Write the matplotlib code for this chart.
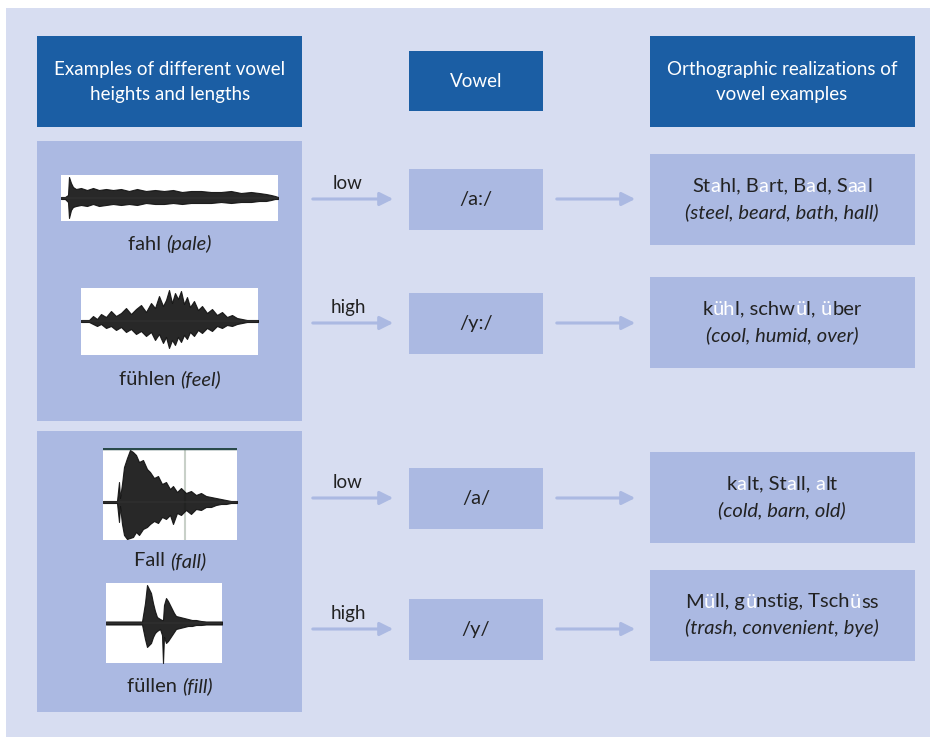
import matplotlib.pyplot as plt
from matplotlib.patches import Rectangle

# Daten / Texte
headers = ["Examples of different vowel\nheights and lengths", "Vowel",
           "Orthographic realizations of\nvowel examples"]
words = ["fahl", "fühlen", "Fall", "füllen"]
glosses = ["(pale)", "(feel)", "(fall)", "(fill)"]
heights = ["low", "high", "low", "high"]
vowels = ["/a:/", "/y:/", "/a/", "/y/"]
# (Textstück, hervorgehoben?)
spellings = [
    [("St", 0), ("a", 1), ("hl, B", 0), ("a", 1), ("rt, B", 0), ("a", 1), ("d, S", 0), ("aa", 1), ("l", 0)],
    [("k", 0), ("üh", 1), ("l, schw", 0), ("ü", 1), ("l, ", 0), ("ü", 1), ("ber", 0)],
    [("k", 0), ("a", 1), ("lt, St", 0), ("a", 1), ("ll, ", 0), ("a", 1), ("lt", 0)],
    [("M", 0), ("ü", 1), ("ll, g", 0), ("ü", 1), ("nstig, Tsch", 0), ("ü", 1), ("ss", 0)],
]
translations = ["(steel, beard, bath, hall)", "(cool, humid, over)",
                "(cold, barn, old)", "(trash, convenient, bye)"]

# Hüllkurven der Oszillogramme (x in px ab linkem Rand, Amplitude in px um Nulllinie)
fahl_x = [0, 4, 7, 8, 10, 12, 15, 20, 26, 32, 38, 45, 52, 60, 68, 76, 85, 94, 103, 112, 121, 130,
          140, 150, 160, 170, 180, 190, 198, 205, 210, 214, 217]
fahl_up = [1, 1, 3, 21, 15, 11, 9, 10, 8, 10, 8, 9, 8, 9, 7, 9, 7, 8, 7, 8, 6, 7, 7, 6, 6, 7, 5, 6, 5, 4, 3, 2, 1]
fahl_lo = [-1, -1, -4, -20, -12, -9, -8, -7, -8, -6, -8, -7, -6, -7, -6, -7, -5, -6, -6, -5, -6, -5,
           -5, -5, -4, -5, -4, -4, -3, -3, -2, -1, -1]

fuehlen_x = [0, 8, 12, 16, 20, 25, 30, 35, 40, 45, 50, 55, 60, 65, 70, 74, 78, 82, 85, 88, 91, 94,
             97, 100, 103, 106, 109, 113, 117, 121, 126, 131, 136, 141, 146, 151, 156, 161, 166, 177]
fuehlen_up = [1, 1, 5, 2, 7, 4, 10, 5, 8, 13, 7, 12, 16, 9, 18, 13, 25, 15, 21, 31, 18, 28, 22, 30,
              17, 24, 14, 20, 11, 15, 8, 12, 6, 9, 4, 6, 3, 2, 1, 1]
fuehlen_lo = [-1, -1, -3, -5, -3, -7, -5, -9, -6, -11, -8, -13, -10, -15, -11, -19, -13, -22, -16,
              -27, -19, -24, -16, -21, -14, -18, -11, -15, -9, -12, -7, -10, -5, -7, -4, -5, -3,
              -2, -1, -1]

fall_x = [0, 14, 16, 17, 19, 21, 24, 27, 30, 33, 36, 40, 44, 47, 51, 55, 59, 63, 67, 70, 74, 78,
          83, 88, 93, 98, 103, 108, 113, 118, 123, 128, 134]
fall_up = [1, 1, 20, 4, 18, 35, 44, 52, 50, 47, 40, 42, 33, 30, 24, 26, 18, 20, 13, 16, 10, 14, 9,
           11, 7, 9, 6, 5, 4, 3, 2, 1, 1]
fall_lo = [-1, -1, -20, -4, -22, -33, -37, -36, -35, -30, -33, -27, -25, -22, -19, -21, -15, -17,
           -13, -22, -11, -13, -8, -12, -7, -8, -5, -5, -3, -2, -2, -1, -1]

fuellen_x = [0, 36, 39, 41, 43, 45, 47, 49, 51, 54, 56, 57, 58, 60, 62, 64, 66, 68, 70, 74, 78, 82,
             86, 90, 95, 100, 116]
fuellen_up = [1.5, 1.5, 20, 38, 34, 30, 20, 12, 6, 4, 3, 3, 18, 25, 22, 18, 14, 10, 7, 6, 5, 4, 3, 3, 2, 1.5, 1.5]
fuellen_lo = [-1.5, -1.5, -16, -24, -22, -20, -14, -10, -8, -6, -12, -40, -14, -20, -18, -15, -12,
              -9, -6, -5, -4, -3, -3, -2, -2, -1.5, -1.5]

waves = [(fahl_x, fahl_up, fahl_lo), (fuehlen_x, fuehlen_up, fuehlen_lo),
         (fall_x, fall_up, fall_lo), (fuellen_x, fuellen_up, fuellen_lo)]

BG = "#d7ddf1"
PANEL = "#abb9e2"
HEAD = "#1b5ea4"
TXT = "#222222"
FONT = "Lato"
FS = 14.5

W, H = 932, 737
fig = plt.figure(figsize=(W / 100, H / 100), dpi=100)
ax = fig.add_axes([0, 0, 1, 1])
ax.set_xlim(0, W)
ax.set_ylim(H, 0)
ax.axis("off")
renderer = fig.canvas.get_renderer()


def box(x0, y0, x1, y1, color):
    ax.add_patch(Rectangle((x0, y0), x1 - x0, y1 - y0, facecolor=color, edgecolor="none"))


def text_width(s, size, style):
    t = ax.text(0, 0, "|" + s + "|", fontsize=size, family=FONT, style=style)
    b = ax.text(0, 0, "||", fontsize=size, family=FONT, style=style)
    w = t.get_window_extent(renderer).width - b.get_window_extent(renderer).width
    t.remove()
    b.remove()
    return w


def rich(cx, cy, parts, size=FS):
    # parts: (text, color, style)
    widths = [text_width(s, size, st) for s, c, st in parts]
    x = cx - sum(widths) / 2
    for (s, c, st), w in zip(parts, widths):
        ax.text(x, cy, s, fontsize=size, family=FONT, style=st, color=c,
                ha="left", va="center")
        x += w


# Hintergrund
box(6, 8, 930, 737, BG)

# Kopfzeilen
box(37, 36, 302, 127, HEAD)
box(409, 51, 543, 111, HEAD)
box(650, 36, 915, 127, HEAD)
for cx, cy, s in zip([170, 476, 782], [82, 81, 82], headers):
    ax.text(cx, cy, s, color="white", fontsize=13.5, family=FONT, ha="center",
            va="center", linespacing=1.55)

# linke Felder
box(37, 141, 302, 421, PANEL)
box(37, 431, 302, 712, PANEL)

wave_boxes = [(61, 175, 278, 221, 198), (81, 288, 258, 355, 321),
              (103, 448, 237, 540, 502), (106, 583, 222, 663, 623)]
label_y = [244, 379, 561, 686]
for i, (x0, y0, x1, y1, yc) in enumerate(wave_boxes):
    wx = fig.add_axes([x0 / W, 1 - y1 / H, (x1 - x0) / W, (y1 - y0) / H])
    wx.set_facecolor("white")
    wx.set_xlim(0, x1 - x0)
    wx.set_ylim(-(y1 - yc), yc - y0)
    xs, up, lo = waves[i]
    wx.fill_between(xs, lo, up, color="#101010", lw=0.8, alpha=0.9)
    wx.axhline(0, color="#333333", lw=1.2, alpha=0.6)
    if i == 2:
        wx.axvline(82, color="#c8d0c8", lw=1.5, zorder=0)
        wx.axhline(yc - y0, color="#2a4a4a", lw=2.5)
    wx.set_xticks([])
    wx.set_yticks([])
    for sp in wx.spines.values():
        sp.set_visible(False)
    rich(170, label_y[i],
         [(words[i] + " ", TXT, "normal"), (glosses[i], TXT, "italic")])

# Pfeile, Vokale, Schreibungen
row_y = [199, 323, 498, 629]
right_top = [154, 277, 452, 570]
for i, y in enumerate(row_y):
    ax.annotate("", xy=(396, y), xytext=(310, y),
                arrowprops=dict(arrowstyle="-|>", color=PANEL, lw=2.2, mutation_scale=20))
    ax.annotate("", xy=(638, y), xytext=(554, y),
                arrowprops=dict(arrowstyle="-|>", color=PANEL, lw=2.2, mutation_scale=20))
    ax.text(348, y - 16, heights[i], color=TXT, fontsize=13.5, family=FONT, ha="center", va="center")
    box(409, y - 30, 543, y + 31, PANEL)
    ax.text(476, y, vowels[i], color=TXT, fontsize=FS, family=FONT, ha="center", va="center")
    t = right_top[i]
    box(650, t, 915, t + 91, PANEL)
    rich(782, t + 32, [(s, "white" if h else TXT, "normal") for s, h in spellings[i]])
    ax.text(782, t + 58, translations[i], color=TXT, fontsize=FS, family=FONT,
            style="italic", ha="center", va="center")

fig.savefig("out.png", dpi=100)
